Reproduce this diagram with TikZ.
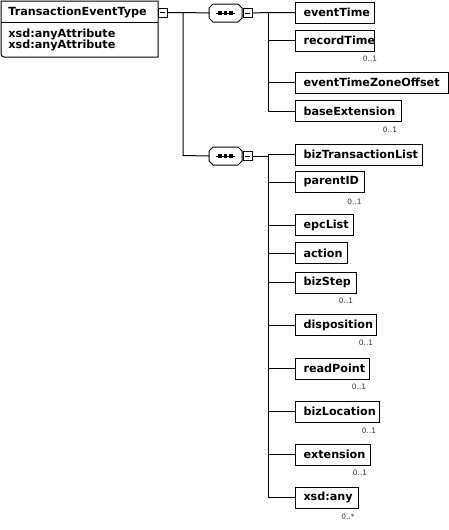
\documentclass[tikz,border=0pt]{standalone}
\usepackage{fontspec}
\setmainfont{DejaVu Sans}
\begin{document}
\begin{tikzpicture}[x=1pt,y=-1pt,line width=1pt,
  elembox/.style={draw,rectangle,anchor=west,minimum height=21pt,inner xsep=8pt,inner ysep=0pt,font=\fontsize{11.2}{12}\selectfont\bfseries},
  maintext/.style={anchor=west,inner sep=0pt,font=\fontsize{11.2}{12}\selectfont\bfseries},
  occ/.style={anchor=center,inner sep=0pt,font=\fontsize{7.4}{8}\selectfont,text=black!80},
  minusbox/.style={draw,rectangle,fill=white,minimum width=9pt,minimum height=9pt,inner sep=0pt},
  conn/.style={draw,line width=1pt}]
\useasboundingbox (0,0) rectangle (449,530);
% main type box
\draw[line width=1pt] (158,1) -- (1,1) -- (1,54) [rounded corners=3pt] -- (1,57) [sharp corners] -- (158,57) -- cycle;
\draw[line width=1pt] (1,22) -- (158,22);
\node[maintext] (main) at (8,12) {TransactionEventType};
\node[maintext] (attr1) at (8,34) {xsd:anyAttribute};
\node[maintext] (attr2) at (8,45.5) {xsd:anyAttribute};
\node[minusbox] (mm) at (162.5,12.5) {};
\draw[line width=0.8pt] (160,12.5) -- (165,12.5);
\coordinate (tr) at (183,12.5);
\coordinate (tb) at (183,155.5);
% sequence compositors
\newcommand\seqsym[3]{% name, x-left, y-center
  \draw[line width=1pt,fill=white] (#2+4,#3-9) -- (#2+29,#3-9) -- (#2+33,#3-5) -- (#2+33,#3+5) -- (#2+29,#3+9) -- (#2+4,#3+9) -- (#2,#3+5) -- (#2,#3-5) -- cycle;
  \coordinate (#1w) at (#2,#3);
  \coordinate (#1e) at (#2+33,#3);
  \draw[line width=1pt] (#2+7,#3) -- (#2+26,#3);
  \foreach \dx in {11,16.5,22} {\fill (#2+\dx-1.6,#3-1.6) rectangle (#2+\dx+1.6,#3+1.6);}
  \node[minusbox] (#1m) at (#2+38.5,#3) {};
  \draw[line width=0.8pt] (#2+36,#3) -- (#2+41,#3);
}
\seqsym{sa}{209}{13}
\seqsym{sb}{209}{156}
\draw[conn] (mm.east) -- (tr) -- (tb) -- (sbw);
\draw[conn] (tr) -- (saw);
% elements
\newcommand\elemnode[4]{% name, ycenter, xright, text
  \node[elembox] (#1) at (295,#2) {\makebox[\dimexpr #3pt-295pt-16pt\relax][l]{#4}};
}
\newcommand\occlabel[4]{\node[occ] (#1) at (#2,#3) {#4};}
\elemnode{eventTime}{12.5}{374}{eventTime}
\elemnode{recordTime}{40.5}{374}{recordTime}
\elemnode{tzo}{82.5}{448}{eventTimeZoneOffset}
\elemnode{baseExt}{111}{401}{baseExtension}
\occlabel{o1}{370}{59}{0..1}
\occlabel{o2}{390}{130}{0..1}
\coordinate (va) at (268,12.5);
\draw[conn] (sam.east) -- (va) -- (eventTime.west);
\draw[conn] (va) |- (recordTime.west);
\draw[conn] (va) |- (tzo.west);
\draw[conn] (va) |- (baseExt.west);
\elemnode{bizTL}{154.5}{422}{bizTransactionList}
\elemnode{parentID}{182}{364}{parentID}
\elemnode{epcList}{225}{353}{epcList}
\elemnode{action}{253}{347}{action}
\elemnode{bizStep}{282.5}{356}{bizStep}
\elemnode{disposition}{325}{376}{disposition}
\elemnode{readPoint}{368.5}{369}{readPoint}
\elemnode{bizLocation}{411.5}{379}{bizLocation}
\elemnode{extension}{454.5}{370}{extension}
\elemnode{xsdany}{497.5}{358}{xsd:any}
\occlabel{o3}{354.5}{202}{0..1}
\occlabel{o4}{346}{301}{0..1}
\occlabel{o5}{366}{343}{0..1}
\occlabel{o6}{359}{387}{0..1}
\occlabel{o7}{369}{431}{0..1}
\occlabel{o8}{360}{473}{0..1}
\occlabel{o9}{348}{517}{0..*}
\coordinate (vb) at (268,156);
\draw[conn] (sbm.east) -- (vb) -- (268,154.5) -- (bizTL.west);
\foreach \n in {parentID,epcList,action,bizStep,disposition,readPoint,bizLocation,extension,xsdany}
  {\draw[conn] (vb) |- (\n.west);}
\end{tikzpicture}
\end{document}
